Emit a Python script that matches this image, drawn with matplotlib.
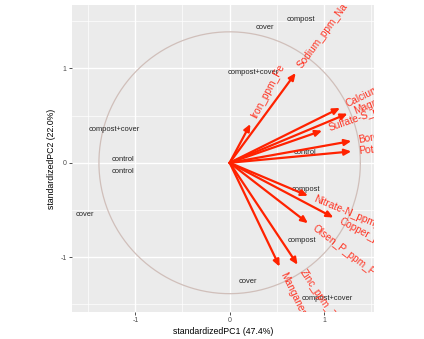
import numpy as np
import matplotlib
matplotlib.use("Agg")
import matplotlib.pyplot as plt
from matplotlib.patches import FancyArrowPatch
from matplotlib.transforms import offset_copy

# Sample scores on the first two standardized components
groups = ["compost", "cover", "compost+cover",
          "compost+cover", "control", "control",
          "control", "compost", "cover",
          "compost", "cover", "compost+cover"]
pc1 = [0.76, 0.37, 0.25, -1.22, -1.13, -1.13, 0.80, 0.81, -1.53, 0.77, 0.19, 1.03]
pc2 = [1.52, 1.43, 0.96, 0.35, 0.03, -0.09, 0.11, -0.28, -0.55, -0.82, -1.26, -1.44]

# Variable loadings (arrow tips)
variables = ["Iron_ppm_Fe", "Sodium_ppm_Na", "Calcium_ppm_Ca", "Magnesium_ppm_Mg",
             "Sulfate-S_ppm_S", "Boron_ppm_B", "Potassium_ppm_K", "Nitrate-N_ppm_N",
             "Copper_ppm_Cu", "Olsen_P_ppm_P", "Zinc_ppm_Zn", "Manganese_ppm_Mn"]
load1 = [0.22, 0.70, 1.17, 1.25, 0.98, 1.29, 1.29, 0.83, 1.10, 0.83, 0.72, 0.53]
load2 = [0.41, 0.95, 0.58, 0.52, 0.34, 0.23, 0.12, -0.35, -0.58, -0.64, -1.08, -1.10]

circle_r = 1.386
xlab = "standardizedPC1 (47.4%)"
ylab = "standardizedPC2 (22.0%)"

plt.rcParams["font.family"] = ["Liberation Sans", "DejaVu Sans"]

fig = plt.figure(figsize=(4.24, 3.39), dpi=100)
ax = fig.add_axes([0.169, 0.0796, 0.713, 0.9054])
ax.set_facecolor("#EBEBEB")
ax.set_xlim(-1.675, 1.53)
ax.set_ylim(-1.58, 1.669)

# grid
for v in [-1.5, -0.5, 0.5, 1.5]:
    ax.axvline(v, color="white", lw=0.5, zorder=0)
    ax.axhline(v, color="white", lw=0.5, zorder=0)
for v in [-1, 0, 1]:
    ax.axvline(v, color="white", lw=1.0, zorder=0)
    ax.axhline(v, color="white", lw=1.0, zorder=0)

# circle
t = np.linspace(0, 2 * np.pi, 400)
ax.plot(circle_r * np.cos(t), circle_r * np.sin(t), color="#D0BFBA", lw=0.9, zorder=1)

# arrows
for x, y in zip(load1, load2):
    arr = FancyArrowPatch((0, 0), (x, y), arrowstyle="-|>,head_length=4,head_width=1.8",
                          color="#FF2200", lw=1.6, shrinkA=0, shrinkB=0,
                          mutation_scale=1, zorder=3)
    ax.add_patch(arr)

# variable labels
for name, x, y in zip(variables, load1, load2):
    ang = np.degrees(np.arctan2(y, x))
    d = 5.0
    tr = offset_copy(ax.transData, fig=fig, x=d * np.cos(np.radians(ang)),
                     y=d * np.sin(np.radians(ang)), units="points")
    ax.text(x, y, name, transform=tr, rotation=ang, rotation_mode="anchor",
            ha="left", va="center", color="#FF3322", fontsize=7.3, zorder=4,
            clip_on=True)

# sample labels
for g, x, y in zip(groups, pc1, pc2):
    ax.text(x, y, g, ha="center", va="center", fontsize=5.4, color="#222222", zorder=2)

ax.set_xticks([-1, 0, 1])
ax.set_yticks([-1, 0, 1])
ax.set_xticklabels(["-1", "0", "1"])
ax.set_yticklabels(["-1", "0", "1"])
ax.tick_params(colors="#333333", labelcolor="#4D4D4D", labelsize=5, length=2, width=0.6, pad=1.5)
for s in ax.spines.values():
    s.set_visible(False)
ax.set_xlabel(xlab, fontsize=6.3, labelpad=2)
ax.set_ylabel(ylab, fontsize=6.3, labelpad=3)

fig.savefig("out.png", dpi=100)
